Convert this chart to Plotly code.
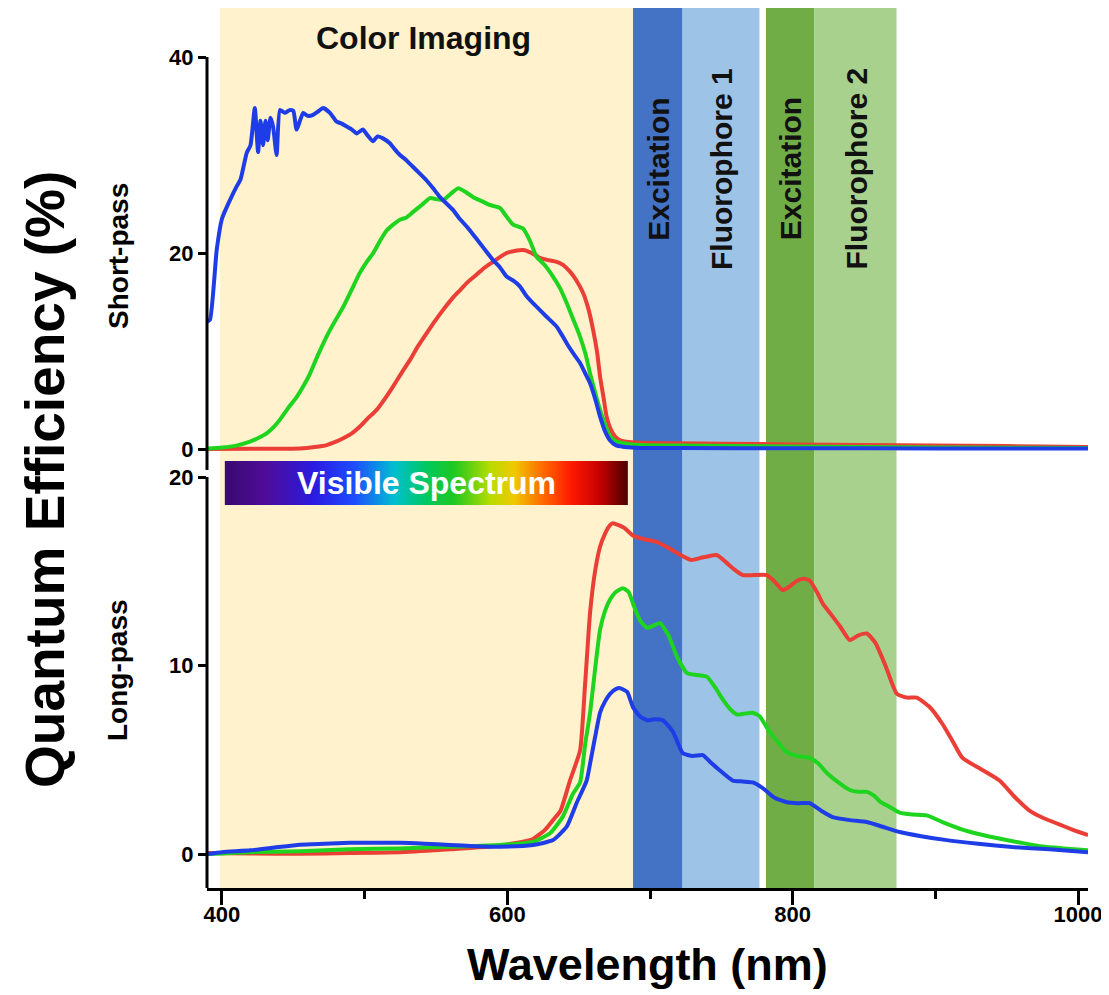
import numpy as np
import plotly.graph_objects as go

# ---------------- data ----------------
# Short-pass panel (Quantum efficiency, %)
sp_blue_x = [389.5, 391.6, 396.3, 400, 405.6, 410.3, 413, 417.3, 420, 423,
             425.3, 427, 428.8, 430.5, 432, 434, 435.8, 438.3, 440.6, 444,
             447.7, 450, 452.3, 456.9, 460, 463.9, 467, 470.9, 475.7, 480.4,
             484, 487.4, 491, 494.4, 498.8, 502, 505.8, 509, 512.8, 517.7,
             521, 524.7, 529, 533.8, 538, 543.4, 548, 552.8, 557, 561.9,
             566, 571.5, 576, 580.8, 585, 589.9, 595, 599.5, 604, 608.8,
             613, 617.9, 622, 627.5, 634.5, 638, 641.6, 646, 650.9, 655,
             658, 662, 665, 668.5, 671.9, 676, 681.2, 687, 693, 720,
             800, 900, 1007]
sp_blue_y = [13.0, 13.2, 20.3, 23.5, 25.4, 26.8, 27.5, 30.2, 31.0, 34.8,
             30.3, 33.5, 31.0, 33.5, 31.5, 33.8, 32.9, 30.0, 34.6, 34.3,
             34.6, 34.5, 32.6, 34.3, 34.0, 34.1, 34.4, 34.8, 34.3, 33.4,
             33.2, 32.9, 32.6, 32.2, 32.6, 32.0, 31.4, 31.9, 31.7, 31.2,
             30.6, 30.0, 29.5, 28.8, 28.2, 27.4, 26.6, 25.7, 25.1, 24.4,
             23.6, 22.7, 21.9, 21.0, 20.2, 19.3, 18.5, 17.6, 17.2, 16.6,
             15.7, 14.9, 14.3, 13.5, 12.5, 11.7, 10.8, 9.8, 8.8, 7.6,
             6.7, 4.9, 3.3, 1.8, 0.9, 0.4, 0.23, 0.15, 0.1, 0.1,
             0.08, 0.06, 0.05]

sp_green_x = [389.5, 400, 410, 419.6, 425, 431.3, 436, 440.6, 446, 452.3,
              457, 461.7, 467, 473.4, 479, 485, 491, 496.7, 501, 506,
              511, 515.4, 520, 524.7, 529, 534, 540, 545.8, 550, 555,
              560, 565.6, 571, 576.1, 582, 587.8, 594.8, 599, 604, 611,
              616, 620.5, 626, 632, 637, 641.6, 646, 650.9, 655, 658,
              661.5, 665, 668.5, 671.9, 676, 681.2, 693, 720, 800, 900,
              1007]
sp_green_y = [0.05, 0.15, 0.35, 0.75, 1.1, 1.6, 2.2, 3.0, 4.1, 5.3,
              6.4, 7.7, 9.5, 11.5, 13.0, 14.5, 16.3, 18.0, 19.0, 20.0,
              21.3, 22.3, 22.9, 23.4, 23.6, 24.2, 24.9, 25.6, 25.5, 25.4,
              26.0, 26.6, 26.2, 25.7, 25.3, 24.9, 24.6, 23.8, 22.9, 22.5,
              21.2, 19.6, 18.8, 17.6, 16.4, 14.9, 13.3, 11.5, 9.6, 7.7,
              5.8, 4.0, 2.5, 1.3, 0.8, 0.6, 0.4, 0.35, 0.25, 0.15,
              0.1]

sp_red_x = [389.5, 420, 454.7, 465, 473.4, 479, 485, 491, 496.7, 502,
            508.4, 514, 520, 526, 531.8, 537, 543.4, 549, 555, 561,
            566.8, 572, 578.5, 584, 590.1, 595, 599.5, 605, 611.1, 617,
            622.8, 628, 634.5, 639, 643.9, 648, 653.2, 657, 660.2, 663,
            665, 667.5, 669.6, 672.5, 675.4, 679, 683.6, 693, 750, 850,
            950, 1007]
sp_red_y = [0, 0.02, 0.05, 0.2, 0.4, 0.7, 1.1, 1.6, 2.3, 3.1,
            4.0, 5.1, 6.4, 7.8, 9.1, 10.4, 11.8, 13.0, 14.2, 15.3,
            16.2, 17.0, 17.8, 18.5, 19.1, 19.6, 20.0, 20.2, 20.3, 20.0,
            19.5, 19.3, 19.1, 18.8, 18.1, 17.3, 15.9, 14.2, 12.1, 9.8,
            7.4, 5.2, 3.3, 2.0, 1.3, 0.9, 0.75, 0.64, 0.55, 0.4,
            0.3, 0.2]

# Long-pass panel
lp_red_x = [389.5, 420, 454.7, 489.7, 524.7, 559.8, 594.8, 618, 626.6, 632,
            637.3, 643.9, 651, 654.5, 658, 661.5, 665, 668.5, 672, 674,
            678, 682, 688, 696, 705, 714, 723, 729, 735, 741,
            747, 753, 759, 765, 773, 782, 788, 793, 798, 803,
            808, 812, 817, 821, 826, 833, 840, 846, 852, 858,
            865, 873, 880, 887, 896, 905, 912, 919, 932, 945,
            956, 966, 976, 986, 996, 1007]
lp_red_y = [0.05, 0.03, 0.02, 0.05, 0.1, 0.25, 0.45, 0.8, 1.3, 1.8,
            2.3, 3.9, 5.5, 9.0, 12.8, 15.0, 16.3, 17.0, 17.45, 17.55,
            17.45, 17.3, 16.9, 16.7, 16.55, 16.2, 15.8, 15.6, 15.7, 15.8,
            15.86, 15.5, 15.1, 14.8, 14.8, 14.8, 14.4, 14.0, 14.2, 14.5,
            14.6, 14.5, 13.9, 13.3, 12.8, 12.1, 11.35, 11.6, 11.7, 11.2,
            10.0, 8.5, 8.3, 8.3, 7.8, 6.9, 6.0, 5.1, 4.5, 3.9,
            3.0, 2.3, 1.9, 1.6, 1.3, 1.0]

lp_green_x = [389.5, 419.6, 454.7, 489.7, 524.7, 559.8, 594.8, 618, 629.9, 639,
              646, 651, 654.5, 658, 661.5, 665, 668.5, 672, 676, 681,
              685, 689, 693, 698, 702, 707, 713, 719, 726, 733,
              740, 746, 751, 756, 761, 766, 772, 777, 782, 789,
              796, 803, 812, 818, 824, 832, 840, 846, 852, 857,
              861, 868, 875, 884, 894, 905, 919, 931, 943, 960,
              975, 990, 1007]
lp_green_y = [0.0, 0.1, 0.15, 0.25, 0.3, 0.39, 0.48, 0.65, 1.1, 2.0,
              3.2, 3.8, 5.8, 7.5, 9.8, 11.9, 12.9, 13.5, 13.9, 14.1,
              13.9, 13.1, 12.4, 12.0, 12.1, 12.25, 11.6, 10.45, 9.6, 9.5,
              9.4, 8.8, 8.2, 7.7, 7.4, 7.45, 7.5, 7.3, 6.7, 6.0,
              5.4, 5.2, 5.1, 4.8, 4.3, 3.8, 3.4, 3.3, 3.3, 3.1,
              2.8, 2.5, 2.2, 2.1, 2.05, 1.7, 1.3, 1.05, 0.85, 0.6,
              0.4, 0.3, 0.2]

lp_blue_x = [389.5, 400, 420, 437, 454.7, 472, 489.7, 507, 524.7, 542,
             559.8, 577, 594.8, 618, 632, 641.6, 648.5, 655.6, 658, 661.5,
             665, 668.5, 672, 676, 679, 684, 688, 693, 698, 703,
             709, 716, 723, 730, 737, 742, 748, 758, 765, 772,
             779, 787, 796, 804, 812, 820, 828, 840, 852, 863,
             875, 890, 908, 930, 954, 980, 1007]
lp_blue_y = [0.0, 0.1, 0.2, 0.35, 0.5, 0.55, 0.6, 0.6, 0.6, 0.55,
             0.48, 0.42, 0.39, 0.48, 0.74, 1.45, 2.7, 3.9, 4.8, 6.2,
             7.5, 8.1, 8.5, 8.75, 8.8, 8.6, 7.8, 7.3, 7.1, 7.15,
             7.1, 6.5, 5.35, 5.2, 5.25, 4.9, 4.5, 3.9, 3.85, 3.8,
             3.5, 3.0, 2.75, 2.7, 2.7, 2.3, 1.96, 1.8, 1.7, 1.45,
             1.17, 0.95, 0.74, 0.55, 0.37, 0.25, 0.1]

# Shaded wavelength bands
band_labels = ["Color Imaging", "Excitation", "Fluorophore 1", "Excitation", "Fluorophore 2"]
band_start = [398.6, 688.1, 722.8, 781.3, 815.3]
band_end = [688.1, 722.8, 776.7, 815.3, 872.8]
band_colors = ["#FFF2CC", "#4472C4", "#9DC3E6", "#70AD47", "#A9D18E"]

# Visible spectrum bar (wavelength span)
vis_start, vis_end = 402.0, 684.6

x_ticks = [400, 600, 800, 1000]
x_minor = [500, 700, 900]
sp_ticks = [0, 20, 40]
lp_ticks = [0, 10, 20]

for a, b in [(sp_blue_x, sp_blue_y), (sp_green_x, sp_green_y), (sp_red_x, sp_red_y),
             (lp_red_x, lp_red_y), (lp_green_x, lp_green_y), (lp_blue_x, lp_blue_y)]:
    assert len(a) == len(b)

# ---------------- styling ----------------
RED = "#EA3E36"
GREEN = "#1ED41E"
BLUE = "#1F3DE6"
FONT = "Liberation Sans, Arial, sans-serif"
LW = 4

W, H = 1109, 995
OFF = 8                      # page body offset of the rendered figure
SX0, SX1 = 207, 1088         # plot area left/right on screen
SY0, SY1 = 8, 888            # plot area top/bottom on screen
ML = SX0 - OFF
MR = W - (SX1 - OFF)
MT = SY0 - OFF
MB = H - (SY1 - OFF)
PW, PH = SX1 - SX0, SY1 - SY0


def px_x(sx):
    return (sx - SX0) / PW


def px_y(sy):
    return (SY1 - sy) / PH


fig = go.Figure()

# visible spectrum gradient bar
edges = np.linspace(vis_start, vis_end, 241)
centers = 0.5 * (edges[:-1] + edges[1:])
spectrum = [
    [0.00, "#3A0A70"], [0.10, "#4E0C9A"], [0.22, "#2A1BE0"], [0.32, "#1E4CFF"],
    [0.42, "#00BFD0"], [0.50, "#00C860"], [0.57, "#20C820"], [0.66, "#B8DC00"],
    [0.72, "#F0C800"], [0.79, "#FF6A00"], [0.86, "#FF1A00"], [0.93, "#C80000"],
    [1.00, "#500000"],
]
fig.add_trace(go.Heatmap(
    x=edges, y=[18.5, 20.85], z=[list(centers)], colorscale=spectrum,
    showscale=False, hoverinfo="skip", xaxis="x", yaxis="y2"))

series = [
    (sp_red_x, sp_red_y, RED, "y"),
    (sp_green_x, sp_green_y, GREEN, "y"),
    (sp_blue_x, sp_blue_y, BLUE, "y"),
    (lp_red_x, lp_red_y, RED, "y2"),
    (lp_green_x, lp_green_y, GREEN, "y2"),
    (lp_blue_x, lp_blue_y, BLUE, "y2"),
]
for xs, ys, col, ya in series:
    fig.add_trace(go.Scatter(x=xs, y=ys, mode="lines", xaxis="x", yaxis=ya,
                             line=dict(color=col, width=LW, shape="spline", smoothing=0.5),
                             showlegend=False, hoverinfo="skip"))

shapes = []
for s, e, c in zip(band_start, band_end, band_colors):
    shapes.append(dict(type="rect", xref="x", yref="paper", x0=s, x1=e, y0=0, y1=1,
                       fillcolor=c, line=dict(width=0), layer="below"))
# y-axis lines
shapes.append(dict(type="line", xref="paper", x0=0, x1=0, yref="y", y0=-2.14, y1=40,
                   line=dict(color="black", width=3)))
shapes.append(dict(type="line", xref="paper", x0=0, x1=0, yref="y2", y0=-1.8, y1=20,
                   line=dict(color="black", width=3)))

annotations = []
annotations.append(dict(text="Color Imaging", x=0.5 * (band_start[0] + band_end[0]) - 2, xref="x",
                        y=px_y(38), yref="paper", showarrow=False,
                        xanchor="center", yanchor="middle",
                        font=dict(family=FONT, size=32, color="#111", weight="bold")))
for lab, s, e in zip(band_labels[1:], band_start[1:], band_end[1:]):
    annotations.append(dict(text=lab, x=0.5 * (s + e), xref="x", y=px_y(169), yref="paper",
                            textangle=-90, showarrow=False,
                            xanchor="center", yanchor="middle",
                            font=dict(family=FONT, size=30, color="#111", weight="bold")))
annotations.append(dict(text="Visible Spectrum", x=0.5 * (vis_start + vis_end), xref="x",
                        y=19.68, yref="y2", showarrow=False,
                        xanchor="center", yanchor="middle",
                        font=dict(family=FONT, size=32, color="white", weight="bold")))
annotations.append(dict(text="Quantum Efficiency (%)", x=px_x(45), xref="paper",
                        y=px_y(480), yref="paper", textangle=-90, showarrow=False,
                        xanchor="center", yanchor="middle",
                        font=dict(family=FONT, size=55, color="black", weight="bold")))
annotations.append(dict(text="Short-pass", x=px_x(118), xref="paper",
                        y=px_y(256), yref="paper", textangle=-90, showarrow=False,
                        xanchor="center", yanchor="middle",
                        font=dict(family=FONT, size=28, color="black", weight="bold")))
annotations.append(dict(text="Long-pass", x=px_x(118), xref="paper",
                        y=px_y(670), yref="paper", textangle=-90, showarrow=False,
                        xanchor="center", yanchor="middle",
                        font=dict(family=FONT, size=28, color="black", weight="bold")))
annotations.append(dict(text="Wavelength (nm)", x=0.5, xref="paper",
                        y=px_y(965), yref="paper", showarrow=False,
                        xanchor="center", yanchor="middle",
                        font=dict(family=FONT, size=45, color="black", weight="bold")))

tickfont = dict(family=FONT, size=22, color="black", weight="bold")

fig.update_layout(
    width=W, height=H,
    margin=dict(l=ML, r=MR, t=MT, b=MB, pad=0),
    paper_bgcolor="white", plot_bgcolor="rgba(0,0,0,0)",
    showlegend=False,
    shapes=shapes, annotations=annotations,
    xaxis=dict(domain=[0, 1], range=[389.5, 1007], anchor="y2",
               showline=True, linecolor="black", linewidth=3,
               ticks="outside", ticklen=14, tickwidth=3, tickcolor="black",
               tickvals=x_ticks, tickfont=tickfont, ticklabelstandoff=-9,
               minor=dict(tickvals=x_minor, ticks="outside", ticklen=8,
                          tickwidth=3, tickcolor="black"),
               showgrid=False, zeroline=False),
    yaxis=dict(domain=[px_y(470), 1], range=[-2.14, 45.0], anchor="x",
               showline=False, ticks="outside", ticklen=8, tickwidth=3,
               tickcolor="black", tickvals=sp_ticks, tickfont=tickfont,
               showgrid=False, zeroline=False),
    yaxis2=dict(domain=[0, px_y(461)], range=[-1.8, 20.85], anchor="x",
                showline=False, ticks="outside", ticklen=8, tickwidth=3,
                tickcolor="black", tickvals=lp_ticks, tickfont=tickfont,
                showgrid=False, zeroline=False),
)

fig.write_html("out.html")
